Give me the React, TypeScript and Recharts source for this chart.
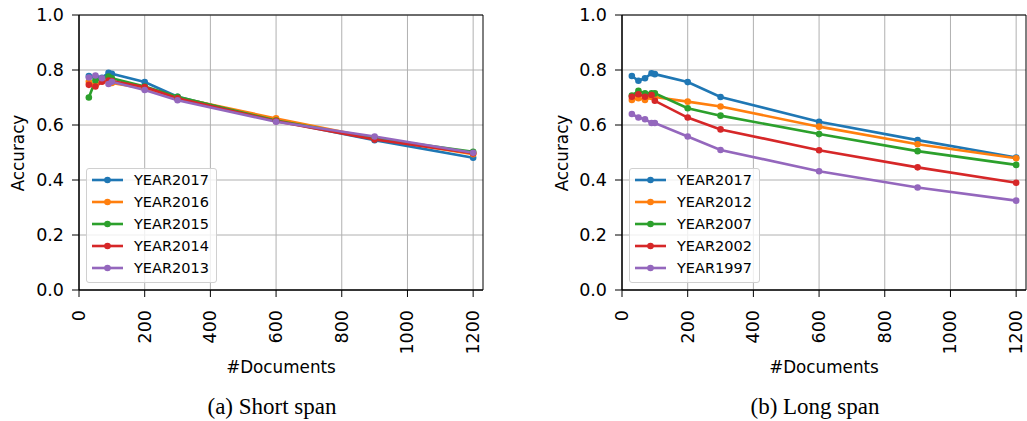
import { LineChart, Line, XAxis, YAxis, CartesianGrid, ReferenceArea } from 'recharts';

const docs = [30, 50, 70, 90, 100, 200, 300, 600, 900, 1200];
const xTicks = [0, 200, 400, 600, 800, 1000, 1200];
const yTicks = [0, 0.2, 0.4, 0.6, 0.8, 1.0];
const colors = ['#1f77b4', '#ff7f0e', '#2ca02c', '#d62728', '#9467bd'];

// (a) short span
const shortNames = ['YEAR2017', 'YEAR2016', 'YEAR2015', 'YEAR2014', 'YEAR2013'];
const short2017 = [0.778, 0.775, 0.772, 0.790, 0.786, 0.756, 0.703, 0.616, 0.545, 0.481];
const short2016 = [0.757, 0.745, 0.760, 0.757, 0.753, 0.733, 0.700, 0.624, 0.552, 0.494];
const short2015 = [0.700, 0.762, 0.768, 0.776, 0.770, 0.740, 0.703, 0.616, 0.552, 0.503];
const short2014 = [0.746, 0.740, 0.757, 0.762, 0.760, 0.738, 0.697, 0.614, 0.547, 0.497];
const short2013 = [0.773, 0.780, 0.770, 0.749, 0.757, 0.727, 0.690, 0.612, 0.558, 0.499];

// (b) long span
const longNames = ['YEAR2017', 'YEAR2012', 'YEAR2007', 'YEAR2002', 'YEAR1997'];
const long2017 = [0.778, 0.761, 0.770, 0.788, 0.785, 0.756, 0.702, 0.612, 0.545, 0.482];
const long2012 = [0.691, 0.697, 0.691, 0.702, 0.702, 0.685, 0.667, 0.594, 0.530, 0.479];
const long2007 = [0.707, 0.724, 0.715, 0.715, 0.715, 0.661, 0.634, 0.567, 0.505, 0.455];
const long2002 = [0.703, 0.712, 0.703, 0.709, 0.688, 0.627, 0.584, 0.508, 0.446, 0.390];
const long1997 = [0.640, 0.627, 0.621, 0.607, 0.607, 0.558, 0.509, 0.432, 0.373, 0.325];

const SANS = 'DejaVu Sans, sans-serif';
const SERIF = 'Liberation Serif, Times New Roman, serif';

function buildRows(series: number[][]) {
  return docs.map((d, i) => {
    const row: Record<string, number> = { docs: d };
    series.forEach((s, k) => { row['s' + k] = s[i]; });
    return row;
  });
}

function XTick(props: any) {
  const { x, y, payload } = props;
  return (
    <text x={x} y={y + 11} transform={`rotate(-90, ${x}, ${y + 11})`} textAnchor="end"
      dominantBaseline="central" fontSize={17.5} fontFamily={SANS} fill="#000">
      {payload.value}
    </text>
  );
}

function LegendBox({ names, left, top }: { names: string[]; left: number; top: number }) {
  return (
    <div style={{ position: 'absolute', left, top, width: 131, height: 115, boxSizing: 'border-box',
      border: '1px solid #d0d0d0', borderRadius: 3, background: 'rgba(255,255,255,0.8)' }}>
      <svg width={131} height={115} style={{ position: 'absolute', left: -1, top: -1 }}>
        {names.map((n, i) => {
          const cy = 12 + i * 22;
          return (
            <g key={n}>
              <line x1={6} x2={37} y1={cy} y2={cy} stroke={colors[i]} strokeWidth={2.6} />
              <circle cx={21.5} cy={cy} r={3.3} fill={colors[i]} />
              <text x={48} y={cy} dominantBaseline="central" fontSize={14.5} fontFamily={SANS} fill="#000">{n}</text>
            </g>
          );
        })}
      </svg>
    </div>
  );
}

function Panel({ series, names, left, yAxisWidth, marginRight, width, caption, legendLeft, yLabelX, captionX }: {
  series: number[][]; names: string[]; left: number; yAxisWidth: number; marginRight: number; width: number;
  caption: string; legendLeft: number; yLabelX: number; captionX: number;
}) {
  const rows = buildRows(series);
  const plotLeft = left + yAxisWidth;
  const plotRight = left + width - marginRight;
  const midX = (plotLeft + plotRight) / 2;
  return (
    <>
      <div style={{ position: 'absolute', left, top: 0 }}>
        <LineChart width={width} height={421} data={rows} margin={{ top: 15, right: marginRight, left: 0, bottom: 71 }}>
          <CartesianGrid stroke="#b0b0b0" strokeWidth={1} horizontalValues={yTicks} verticalValues={xTicks} />
          <XAxis type="number" dataKey="docs" domain={[0, 1230]} ticks={xTicks} height={60}
            tick={<XTick />} tickSize={7} tickLine={{ stroke: '#000' }} axisLine={{ stroke: '#000' }} interval={0} />
          <YAxis type="number" domain={[0, 1]} ticks={yTicks} width={yAxisWidth} tickSize={7} tickMargin={8}
            tickFormatter={(v: number) => v.toFixed(1)} tick={{ fontSize: 17.5, fontFamily: SANS, fill: '#000' }}
            tickLine={{ stroke: '#000' }} axisLine={{ stroke: '#000' }} interval={0} />
          <ReferenceArea x1={0} x2={1230} y1={0} y2={1} fill="none" stroke="#000" strokeWidth={1} />
          {series.map((_, k) => (
            <Line key={k} dataKey={'s' + k} stroke={colors[k]} strokeWidth={2.6}
              dot={{ r: 3.3, fill: colors[k], stroke: colors[k], strokeWidth: 0 }} isAnimationActive={false} />
          ))}
        </LineChart>
      </div>
      <div style={{ position: 'absolute', left: yLabelX - 100, top: 152.5 - 10, width: 200, height: 20, lineHeight: '20px',
        textAlign: 'center', transform: 'rotate(-90deg)', fontSize: 16.8, fontFamily: SANS }}>Accuracy</div>
      <div style={{ position: 'absolute', left: midX - 100, top: 357, width: 200, height: 20, lineHeight: '20px',
        textAlign: 'center', fontSize: 16.8, fontFamily: SANS }}>#Documents</div>
      <div style={{ position: 'absolute', left: captionX - 150, top: 393, width: 300, height: 28, lineHeight: '28px',
        textAlign: 'center', fontSize: 23, fontFamily: SERIF }}>{caption}</div>
      <LegendBox names={names} left={legendLeft} top={168} />
    </>
  );
}

export default function App() {
  return (
    <div style={{ position: 'fixed', left: 0, top: 0, width: 1027, height: 421, background: '#fff', overflow: 'hidden' }}>
      <Panel series={[short2017, short2016, short2015, short2014, short2013]} names={shortNames}
        left={0} width={500} yAxisWidth={79} marginRight={17} caption="(a) Short span"
        legendLeft={86} yLabelX={18} captionX={272} />
      <Panel series={[long2017, long2012, long2007, long2002, long1997]} names={longNames}
        left={520} width={507} yAxisWidth={102} marginRight={1} caption="(b) Long span"
        legendLeft={629} yLabelX={562} captionX={815} />
    </div>
  );
}
